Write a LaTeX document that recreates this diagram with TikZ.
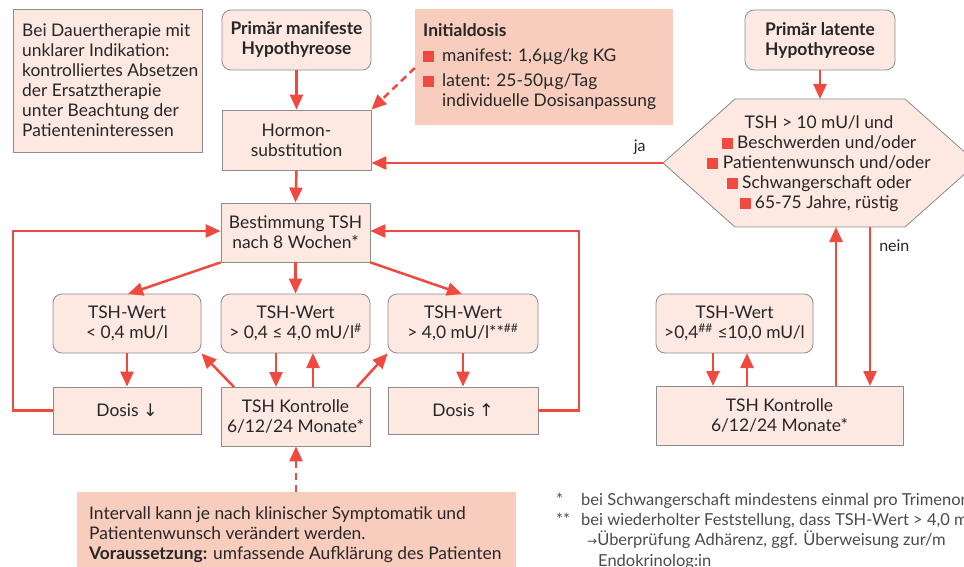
\documentclass[tikz,border=0pt]{standalone}
\usepackage{fontspec}
\setmainfont{Lato}
\newfontfamily\symf{DejaVu Sans}
\usetikzlibrary{arrows.meta}
\definecolor{boxfill}{HTML}{FDE8E2}
\definecolor{notefill}{HTML}{F9CDBE}
\definecolor{arr}{HTML}{EE4A3F}
\definecolor{bord}{HTML}{8C8C8C}
\definecolor{fntext}{HTML}{4A4A4A}
\newcommand{\bul}{\textcolor{arr}{\rule[-0.5pt]{11pt}{11pt}}}
\begin{document}
\begin{tikzpicture}[x=1pt,y=-1pt,
  font=\fontsize{17.4}{20}\selectfont, text=black!85,
  box/.style={draw=bord, line width=0.8pt, fill=boxfill, align=center, inner sep=0pt},
  rbox/.style={box, rounded corners=9pt},
  note/.style={fill=notefill, inner sep=0pt},
  con/.style={draw=arr, line width=2.5pt, -{Triangle[length=15pt,width=13pt]}},
  dcon/.style={con, dash pattern=on 7pt off 5pt},
  lab/.style={inner sep=0pt, font=\fontsize{16}{18}\selectfont},
  fn/.style={inner sep=0pt, anchor=base west, text=fntext, font=\fontsize{16.5}{20}\selectfont}
]
\useasboundingbox (0,0) rectangle (964,567);
\clip (0,0) rectangle (964,567);

% left note
\node[box, minimum width=189pt, minimum height=143pt] (noteL) at (107.5,80.5) {};
\node[inner sep=0pt, anchor=west, align=left] (noteLt) at (22,80.5) {Bei Dauertherapie mit\\unklarer Indikation:\\kontrolliertes Absetzen\\der Ersatztherapie\\unter Beachtung der\\Patienteninteressen};

% top left chain
\node[rbox, minimum width=149pt, minimum height=60pt] (manif) at (296.5,40) {\textbf{Primär manifeste}\\\textbf{Hypothyreose}};
\node[box, minimum width=149pt, minimum height=60pt] (hormon) at (296.5,140) {Hormon-\\substitution};

% Initialdosis
\node[note, minimum width=258pt, minimum height=116pt] (init) at (544,67) {};
\node[inner sep=0pt, anchor=north west] (initt) at (423,22) {\begin{tabular}{@{}l@{\hspace{8pt}}l@{}}
\multicolumn{2}{@{}l@{}}{\textbf{Initialdosis}}\\[5pt]
\bul & manifest: 1,6µg/kg KG\\[5pt]
\bul & latent: 25-50µg/Tag\\
 & individuelle Dosisanpassung
\end{tabular}};

% latent
\node[rbox, minimum width=150pt, minimum height=60pt] (latent) at (820,40) {\textbf{Primär latente}\\\textbf{Hypothyreose}};

% hexagon
\coordinate (hexL) at (663,163);
\coordinate (hexT) at (820,99);
\coordinate (hexB) at (820,227);
\draw[draw=bord, line width=0.8pt, fill=boxfill] (663,163) -- (735,99) -- (905,99) -- (977,163) -- (905,227) -- (735,227) -- cycle;
\node[inner sep=0pt, align=center] (hext) at (819,163.5) {TSH > 10 mU/l und\\\bul\ Beschwerden und/oder\\\bul\ Patientenwunsch und/oder\\\bul\ Schwangerschaft oder\\\bul\ 65-75 Jahre, rüstig};

% middle flow
\node[box, minimum width=149pt, minimum height=59pt] (best) at (295.5,232.5) {Bestimmung TSH\\nach 8 Wochen*};
\node[rbox, minimum width=148pt, minimum height=59pt] (tshL) at (127,323.5) {TSH-Wert\\< 0,4 mU/l};
\node[rbox, minimum width=149pt, minimum height=59pt] (tshM) at (295.5,323.5) {TSH-Wert\\> 0,4 ≤ 4,0 mU/l\textsuperscript{\#}};
\node[rbox, minimum width=150pt, minimum height=59pt] (tshR) at (463,323.5) {TSH-Wert\\> 4,0 mU/l**\textsuperscript{\#\#}};
\node[box, minimum width=148pt, minimum height=47pt] (dosL) at (127,410.5) {Dosis {\symf ↓}};
\node[box, minimum width=149pt, minimum height=59pt] (kontM) at (295.5,416.5) {TSH Kontrolle\\6/12/24 Monate*};
\node[box, minimum width=150pt, minimum height=47pt] (dosR) at (463,410.5) {Dosis {\symf ↑}};

% right flow
\node[rbox, minimum width=157pt, minimum height=59pt] (tshR2) at (734.5,323.5) {TSH-Wert\\>0,4\textsuperscript{\#\#} ≤10,0 mU/l};
\node[box, minimum width=247pt, minimum height=59pt] (kontR) at (779.5,415.5) {TSH Kontrolle\\6/12/24 Monate*};

% bottom note
\node[note, minimum width=439pt, minimum height=110pt] (noteB) at (296.5,547) {};
\node[inner sep=0pt, anchor=north west, align=left] (noteBt) at (89,506) {Intervall kann je nach klinischer Symptomatik und\\Patientenwunsch verändert werden.\\\textbf{Voraussetzung:} umfassende Aufklärung des Patienten};

% footnotes
\node[fn] (f1s) at (556,505) {*};
\node[fn] (f1) at (581,505) {bei Schwangerschaft mindestens einmal pro Trimenon};
\node[fn] (f2s) at (556,525) {**};
\node[fn] (f2) at (581,525) {bei wiederholter Feststellung, dass TSH-Wert > 4,0 mU/l};
\node[fn] (f3) at (587,545) {{\symf\fontsize{12}{14}\selectfont →}Überprüfung Adhärenz, ggf. Überweisung zur/m};
\node[fn] (f4) at (598,566) {Endokrinolog:in};

% connectors
\draw[con] (manif.south) -- (hormon.north);
\draw[con] (hormon.south) -- (best.north);
\draw[con] (hexL) -- node[lab, above=7pt, pos=0.08] (ja) {ja} (hexL -| hormon.east);
\draw[dcon] (init.west |- 0,68) -- (hormon.north east);
\draw[con] (latent.south) -- (hexT);

\draw[con] (best.south west) -- (128,294);
\draw[con] (best.south) -- (tshM.north);
\draw[con] (best.south east) -- (462,294);
\draw[con] (tshL.south) -- (dosL.north);
\draw[con] (tshR.south) -- (dosR.north);
\draw[con] (234,387) -- (tshL.south east);
\draw[con] (357,387) -- (tshR.south west);
\draw[con] (276,353) -- (276,387);
\draw[con] (313,387) -- (313,353);
\draw[con] (dosL.west) -- (13,410.5) -- (13,231) -- (best.west |- 0,231);
\draw[con] (dosR.east) -- (579,410.5) -- (579,231) -- (best.east |- 0,231);
\draw[dcon] (noteB.north -| 296,0) -- (kontM.south -| 296,0);

\draw[con] (870,227) -- node[lab, right=8pt, pos=0.12] (nein) {nein} (870,386);
\draw[con] (836,386) -- (836,227);
\draw[con] (713,353) -- (713,386);
\draw[con] (747,386) -- (747,353);
\end{tikzpicture}
\end{document}
